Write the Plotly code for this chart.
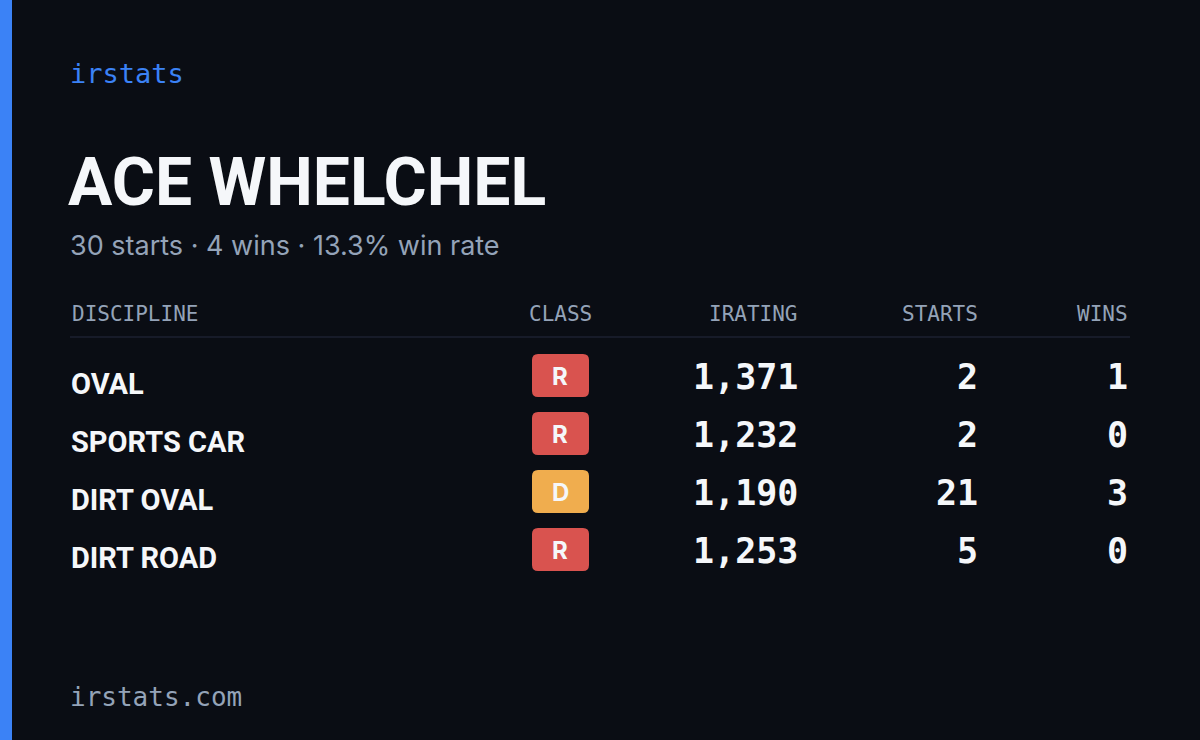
import plotly.graph_objects as go

driver = "ACE WHELCHEL"
summary = "30 starts · 4 wins · 13.3% win rate"
columns = ["DISCIPLINE", "CLASS", "IRATING", "STARTS", "WINS"]
disciplines = ["OVAL", "SPORTS CAR", "DIRT OVAL", "DIRT ROAD"]
classes = ["R", "R", "D", "R"]
iratings = [1371, 1232, 1190, 1253]
starts = [2, 2, 21, 5]
wins = [1, 0, 3, 0]

BG = "#0a0d14"
WHITE = "#f5f7fa"
GREY = "#94a3b8"
MONO = "DejaVu Sans Mono"
COND = "Roboto"
class_colors = {"R": "#d9534f", "D": "#f0ad4e"}

fig = go.Figure()
ann = []
shapes = []

def text(x, y, s, size, color, font, anchor="left", bold=False):
    ann.append(dict(x=x, y=y, text=f"<b>{s}</b>" if bold else s, showarrow=False,
                    xanchor=anchor, yanchor="middle",
                    font=dict(size=size, color=color, family=font)))

# left accent bar
shapes.append(dict(type="rect", x0=0, x1=12, y0=0, y1=740, fillcolor="#3b82f6", line_width=0))

text(68, 73, "irstats", 27, "#3b82f6", MONO)
text(66, 182, driver, 66, WHITE, COND, bold=True)
text(68, 245, summary, 27, GREY, "Inter")

col_x = [70, 560, 800, 980, 1130]
col_anchor = ["left", "center", "right", "right", "right"]
for c, x, a in zip(columns, col_x, col_anchor):
    text(x, 314, c, 21, GREY, MONO, anchor=a)
shapes.append(dict(type="line", x0=70, x1=1130, y0=337, y1=337, line=dict(color="#1c2130", width=1.5)))

def rounded(x0, y0, x1, y1, r):
    return (f"M{x0+r},{y0} L{x1-r},{y0} Q{x1},{y0} {x1},{y0+r} L{x1},{y1-r} Q{x1},{y1} {x1-r},{y1} "
            f"L{x0+r},{y1} Q{x0},{y1} {x0},{y1-r} L{x0},{y0+r} Q{x0},{y0} {x0+r},{y0} Z")

for i, (d, k, ir, s, w) in enumerate(zip(disciplines, classes, iratings, starts, wins)):
    y = 377 + i * 58
    text(69, y + 7, d, 29, WHITE, COND, bold=True)
    shapes.append(dict(type="path", path=rounded(532, y - 23, 589, y + 20, 6),
                       fillcolor=class_colors[k], line_width=0))
    text(560, y - 1, k, 24, WHITE, "Inter", anchor="center", bold=True)
    text(800, y, f"{ir:,}", 35, WHITE, MONO, anchor="right", bold=True)
    text(980, y, str(s), 35, WHITE, MONO, anchor="right", bold=True)
    text(1130, y, str(w), 35, WHITE, MONO, anchor="right", bold=True)

text(68, 697, "irstats.com", 26, GREY, MONO)

fig.update_layout(width=1200, height=740, margin=dict(l=0, r=0, t=0, b=0),
                  paper_bgcolor=BG, plot_bgcolor=BG, showlegend=False,
                  annotations=ann, shapes=shapes,
                  xaxis=dict(range=[0, 1200], visible=False, fixedrange=True),
                  yaxis=dict(range=[740, 0], visible=False, fixedrange=True))
fig.write_html("out.html", config={"displayModeBar": False},
               post_script="document.body.style.margin='0';document.body.style.background='#0a0d14';")
